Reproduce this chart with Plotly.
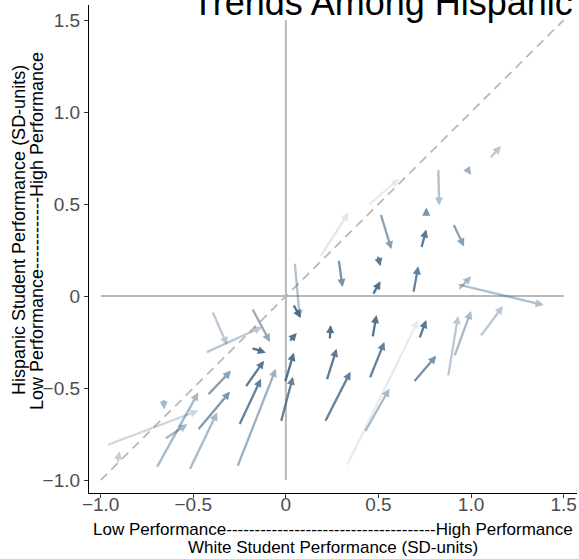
import plotly.graph_objects as go

# Arrow data: start (earlier) -> end (later) positions, in SD units
white_start = [0.048, 0.038, -0.398, -0.183, -0.435, -0.188, 0.016, 0.237, 0.253, -0.220,
               -0.005, 0.220, -0.425, -0.253, -0.027, 0.210, -0.263, -0.478, -0.521, -0.699,
               -0.656, -0.968, -0.661, -0.909, 0.183, 0.441, 1.100, 0.978, 0.823, 0.925,
               0.758, 0.731, 0.511, 0.903, 0.285, 0.495, 0.468, 0.688, 0.930, 0.925,
               0.468, 0.452, 0.720, 0.688, 0.425, 0.328, 0.876, 0.909, 1.048]
hisp_start = [0.184, -0.043, -0.081, -0.065, -0.308, -0.281, -0.249, -0.238, -0.036, -0.497,
              -0.470, -0.459, -0.541, -0.703, -0.686, -0.686, -0.930, -0.730, -0.946, -0.935,
              -0.778, -0.811, -0.557, -0.908, 0.211, 0.492, 0.746, 0.692, 0.692, 0.488,
              0.438, 0.259, 0.449, 0.395, 0.200, 0.222, 0.005, 0.016, 0.032, 0.065,
              -0.227, -0.449, -0.232, -0.470, -0.741, -0.924, -0.438, -0.330, -0.222]
white_end = [0.075, 0.081, -0.317, -0.086, -0.129, -0.108, 0.059, 0.242, 0.253, -0.118,
             0.043, 0.274, -0.296, -0.134, 0.038, 0.349, -0.054, -0.301, -0.371, -0.473,
             -0.532, -0.473, -0.656, -0.898, 0.339, 0.613, 1.161, 1.000, 0.828, 0.925,
             0.758, 0.758, 0.570, 0.962, 0.306, 0.511, 0.511, 0.715, 1.000, 1.392,
             0.489, 0.532, 0.758, 0.812, 0.559, 0.715, 0.930, 1.000, 1.172]
hisp_end = [-0.119, -0.119, -0.265, -0.249, -0.168, -0.308, -0.200, -0.157, -0.020, -0.351,
            -0.308, -0.286, -0.405, -0.449, -0.438, -0.411, -0.395, -0.519, -0.632, -0.524,
            -0.697, -0.622, -0.616, -0.843, 0.454, 0.638, 0.816, 0.659, 0.492, 0.505,
            0.481, 0.362, 0.254, 0.270, 0.049, 0.162, 0.081, 0.162, 0.108, -0.049,
            -0.103, -0.249, -0.130, -0.324, -0.503, -0.130, -0.108, -0.081, -0.054]
weight = [0.40, 0.90, 0.35, 0.55, 0.35, 0.90, 0.90, 0.90, 0.85, 0.85,
          0.90, 0.85, 0.60, 0.80, 0.80, 0.80, 0.50, 0.65, 0.45, 0.45,
          0.45, 0.25, 0.45, 0.30, 0.15, 0.12, 0.35, 0.50, 0.40, 0.60,
          0.70, 0.85, 0.60, 0.60, 0.70, 0.85, 0.90, 0.80, 0.45, 0.40,
          0.90, 0.80, 0.85, 0.70, 0.45, 0.12, 0.35, 0.45, 0.35]

tick_vals = [-1.0, -0.5, 0.0, 0.5, 1.0, 1.5]
tick_text = ["\u22121.0", "\u22120.5", "0", "0.5", "1.0", "1.5"]
ref_ends = [-1.0, 1.5]

title_text = "Trends Among Hispanic and White Students"
x_title_1 = "Low Performance" + "-" * 37 + "High Performance"
x_title_2 = "White Student Performance (SD-units)"
y_title_1 = "Hispanic Student Performance (SD-units)"
y_title_2 = "Low Performance" + "-" * 12 + "High Performance"

FONT = "Liberation Sans, Arial, sans-serif"

fig = go.Figure()
fig.add_trace(go.Scatter(x=ref_ends, y=[0, 0], mode="lines",
                         line=dict(color="#b8b8b8", width=2), hoverinfo="skip"))
fig.add_trace(go.Scatter(x=[0, 0], y=ref_ends, mode="lines",
                         line=dict(color="#b8b8b8", width=2), hoverinfo="skip"))
fig.add_trace(go.Scatter(x=ref_ends, y=ref_ends, mode="lines",
                         line=dict(color="#b8b8b8", width=1.8, dash="9px,6px"), hoverinfo="skip"))

annotations = []
for xs, ys, xe, ye, w in zip(white_start, hisp_start, white_end, hisp_end, weight):
    annotations.append(dict(
        x=xe, y=ye, ax=xs, ay=ys, xref="x", yref="y", axref="x", ayref="y",
        text="", showarrow=True, arrowhead=2, arrowsize=0.7, arrowwidth=2.3,
        arrowcolor=f"rgba(62,100,133,{w})", standoff=0, startstandoff=0))

PW, PH, L, T = 488, 488, 89, 5  # plot area in px (for placing titles)

annotations.append(dict(
    text=title_text, xref="paper", yref="paper",
    x=(190 - L) / PW, y=1, xanchor="left", yanchor="bottom", yshift=-20,
    showarrow=False, font=dict(family=FONT, size=36, color="black")))
annotations.append(dict(
    text=x_title_1, xref="paper", yref="paper", x=0.5, y=0, xanchor="center",
    yanchor="middle", yshift=-(529 - 493), showarrow=False,
    font=dict(family=FONT, size=17, color="black")))
annotations.append(dict(
    text=x_title_2, xref="paper", yref="paper", x=0.5, y=0, xanchor="center",
    yanchor="middle", yshift=-(547 - 493), showarrow=False,
    font=dict(family=FONT, size=17, color="black")))
annotations.append(dict(
    text=y_title_1, xref="paper", yref="paper", x=0, y=(493 - 230) / PH,
    xanchor="center", yanchor="middle", xshift=-(L - 19), textangle=-90,
    showarrow=False, font=dict(family=FONT, size=18, color="black")))
annotations.append(dict(
    text=y_title_2, xref="paper", yref="paper", x=0, y=(493 - 231) / PH,
    xanchor="center", yanchor="middle", xshift=-(L - 37), textangle=-90,
    showarrow=False, font=dict(family=FONT, size=18, color="black")))

axis_common = dict(showgrid=False, zeroline=False, showline=True, linecolor="black",
                   linewidth=1.2, ticks="outside", ticklen=4, tickcolor="#333333",
                   tickwidth=1, tickvals=tick_vals, ticktext=tick_text, automargin=False,
                   tickfont=dict(family=FONT, size=19, color="#4d4d4d"))

fig.update_layout(
    width=579, height=559,
    margin=dict(l=L, r=2, t=T, b=66, autoexpand=False),
    plot_bgcolor="white", paper_bgcolor="white",
    showlegend=False,
    xaxis=dict(range=[-1.063, 1.572], ticklabelstandoff=-10, **axis_common),
    yaxis=dict(range=[-1.07, 1.582], **axis_common),
    annotations=annotations,
)

fig.write_html("out.html", config={"displayModeBar": False},
               post_script="document.body.style.margin='0';document.body.style.overflow='hidden';")
